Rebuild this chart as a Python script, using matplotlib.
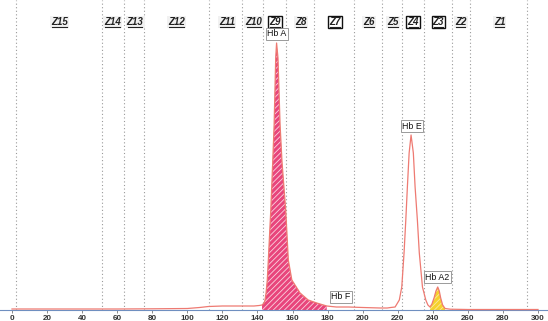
import matplotlib
matplotlib.use("Agg")
import matplotlib.pyplot as plt
import numpy as np
from matplotlib.lines import Line2D
from matplotlib.transforms import IdentityTransform

plt.rcParams['font.family'] = ['Liberation Sans', 'DejaVu Sans']
plt.rcParams['hatch.linewidth'] = 0.6

# --- data ---
trace_x = [0, 20, 40, 60, 80, 100, 107, 112, 120, 130, 138, 141, 142.6, 143.8, 144.3,
           144.9, 145.6, 146.2, 147.6, 148.7, 149.5, 150.4, 150.9, 151.7, 152.9, 154.0,
           156.1, 157.6, 159.6, 164.3, 168.9, 173.8, 179.5, 185, 192, 200, 210, 214,
           216, 218.5, 220.9, 222.3, 223.6, 224.6, 225.5, 226.5, 227.6, 228.9, 229.9,
           231.2, 232.3, 234.1, 236.0, 237.2, 238.4, 239.5, 240.7, 241.8, 242.8, 243.7,
           244.5, 245.6, 247, 250, 260, 280, 300]
trace_y = [1, 1, 1, 1, 1.2, 1.5, 2.5, 3.5, 4, 4, 4, 4.5, 5, 7, 10,
           17, 30, 50, 100, 148, 185, 252, 267, 252, 185, 148,
           100, 50, 30, 17, 10, 7, 4, 3, 3, 2.5, 2, 2,
           2.5, 3, 10, 23, 57, 90, 123, 157, 175, 157, 123,
           90, 57, 23, 10, 5, 3, 6, 12, 19, 23, 19,
           12, 5, 1.5, 0.8, 0.5, 0.5, 0.5]

hba_range = (142.6, 179.5)
hba2_range = (238.4, 247.0)

zone_bounds = [2.3, 51.5, 63.9, 75.5, 112.5, 131.4, 143.2, 156.3, 172.3, 195.1,
               210.9, 222.2, 234.9, 250.7, 261.1, 293.9]
zone_names = ['Z15', 'Z14', 'Z13', 'Z12', 'Z11', 'Z10', 'Z9', 'Z8', 'Z7', 'Z6',
              'Z5', 'Z4', 'Z3', 'Z2', 'Z1']
zone_centers = [27.0, 57.4, 70.2, 93.9, 122.5, 138.0, 150.0, 164.9, 184.2, 203.6,
                217.2, 228.9, 243.2, 255.9, 278.0]
zone_boxed = ['Z9', 'Z7', 'Z4', 'Z3']

peak_labels = ['Hb A', 'Hb F', 'Hb E', 'Hb A2']
peak_label_x = [150.9, 187.4, 228.0, 242.7]
peak_label_y = [276, 13.3, 183.7, 33]

xticks = list(range(0, 301, 20))

# --- figure ---
fig = plt.figure(figsize=(5.48, 3.21), dpi=100)
ax = fig.add_axes([0, 9 / 321, 1, 312 / 321])
ax.set_xlim(-6.84, 305.7)
ax.set_ylim(-2, 310)

X = np.array(trace_x)
Y = np.array(trace_y)

for b in zone_bounds:
    ax.axvline(b, ymin=2 / 312, ymax=1, color='#9a9a9a', ls=(0, (1, 2.2)), lw=0.8, zorder=1)

m1 = (X >= hba_range[0]) & (X <= hba_range[1])
ax.fill_between(X[m1], 0, Y[m1], facecolor='#e8457c', edgecolor='#fbd3e0',
                hatch='//////', linewidth=0, zorder=2)
m2 = (X >= hba2_range[0]) & (X <= hba2_range[1])
ax.fill_between(X[m2], 0, Y[m2], facecolor='#f6d12c', edgecolor='#fbe9a0',
                hatch='//////', linewidth=0, zorder=2)

ax.plot(X, Y, color='#ee7a72', lw=0.9, zorder=3)

for s in ['left', 'right', 'top']:
    ax.spines[s].set_visible(False)
ax.spines['bottom'].set_position(('data', 0))
ax.spines['bottom'].set_color('#6f8fc0')
ax.spines['bottom'].set_linewidth(0.8)
ax.set_yticks([])
ax.set_xticks(xticks)
ax.set_xticklabels([str(t) for t in xticks])
ax.tick_params(axis='x', length=2, width=0.6, color='#777777', pad=1.8,
               labelsize=5.8, labelcolor='#333333')
for lab in ax.get_xticklabels():
    lab.set_fontweight('bold')

zone_texts = []
for name, cx in zip(zone_names, zone_centers):
    if name in zone_boxed:
        bb = dict(boxstyle='square,pad=0.12', facecolor='white', edgecolor='#111111', lw=1.0)
    else:
        bb = dict(boxstyle='square,pad=0.12', facecolor='#f1f1f1', edgecolor='none')
    t = ax.text(cx, 288, name, ha='center', va='center', fontsize=7,
                fontweight='bold', fontstyle='italic', color='#222222', bbox=bb, zorder=5)
    zone_texts.append(t)

for lab, px, py in zip(peak_labels, peak_label_x, peak_label_y):
    ax.text(px, py, lab, ha='center', va='center', fontsize=6.4, color='#111111',
            bbox=dict(boxstyle='square,pad=0.15', facecolor='white', edgecolor='#8a8a8a', lw=0.6),
            zorder=6)

fig.canvas.draw()
renderer = fig.canvas.get_renderer()
for t in zone_texts:
    bb = t.get_window_extent(renderer)
    yline = bb.y0 + 0.5
    fig.add_artist(Line2D([bb.x0 + 1, bb.x1 - 1], [yline, yline], transform=IdentityTransform(),
                          color='#222222', lw=0.8, zorder=7))

fig.savefig('out.png', dpi=100)
